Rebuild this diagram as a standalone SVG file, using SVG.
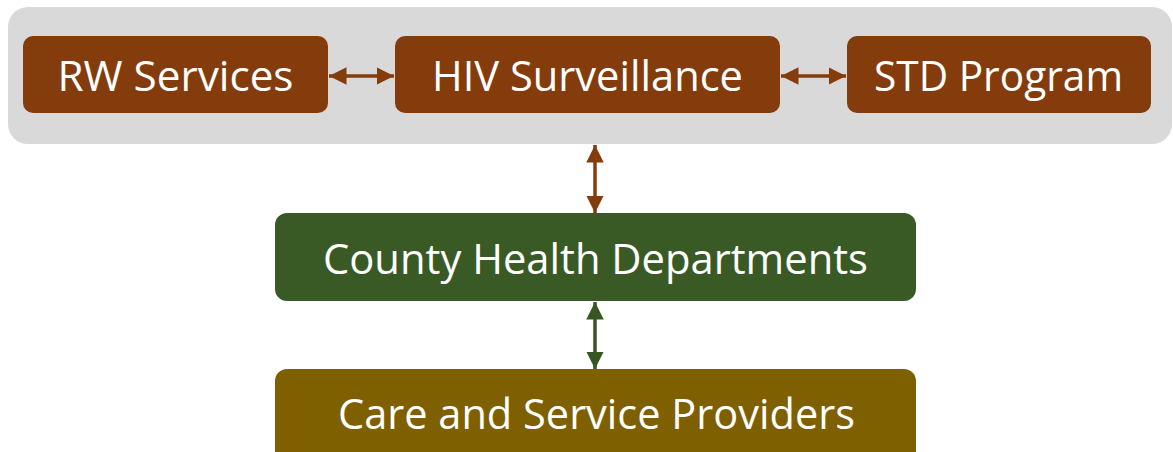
<svg xmlns="http://www.w3.org/2000/svg" width="1173" height="452" viewBox="0 0 1173 452">
<defs>
<style>
.t{font-family:"Open Sans","Noto Sans","Liberation Sans",sans-serif;fill:#fff;text-anchor:middle;font-size:42px}
.b{fill:#843C0C}
.lb{stroke:#843C0C;stroke-width:3.5;fill:none}
.lg{stroke:#375623;stroke-width:3.5;fill:none}
</style>
<marker id="ab" viewBox="0 0 10 10" refX="10" refY="5" markerWidth="5" markerHeight="5" orient="auto-start-reverse" markerUnits="strokeWidth"><path d="M0,0 L10,5 L0,10 z" fill="#843C0C"/></marker>
<marker id="ag" viewBox="0 0 10 10" refX="10" refY="5" markerWidth="5" markerHeight="5" orient="auto-start-reverse" markerUnits="strokeWidth"><path d="M0,0 L10,5 L0,10 z" fill="#375623"/></marker>
</defs>
<g id="container"><rect x="8" y="7" width="1164" height="137" rx="20" fill="#D9D9D9"/></g>
<g id="connectors">
<line class="lb" x1="329" y1="76" x2="394" y2="76" marker-start="url(#ab)" marker-end="url(#ab)"/>
<line class="lb" x1="781" y1="76" x2="846" y2="76" marker-start="url(#ab)" marker-end="url(#ab)"/>
<line class="lb" x1="595" y1="145" x2="595" y2="213" marker-start="url(#ab)" marker-end="url(#ab)"/>
<line class="lg" x1="595" y1="302" x2="595" y2="369" marker-start="url(#ag)" marker-end="url(#ag)"/>
</g>
<g id="rw"><rect class="b" x="23" y="36" width="305" height="77" rx="10"/><text class="t" x="175.5" y="91" textLength="236" lengthAdjust="spacingAndGlyphs">RW Services</text></g>
<g id="hiv"><rect class="b" x="395" y="36" width="385" height="77" rx="10"/><text class="t" x="587.5" y="91" textLength="311" lengthAdjust="spacingAndGlyphs">HIV Surveillance</text></g>
<g id="std"><rect class="b" x="847" y="36" width="304" height="77" rx="10"/><text class="t" x="998.5" y="91" textLength="249" lengthAdjust="spacingAndGlyphs">STD Program</text></g>
<g id="county"><rect x="275" y="213" width="641" height="88" rx="12" fill="#3A5A25"/><text class="t" x="595.5" y="274" textLength="545" lengthAdjust="spacingAndGlyphs">County Health Departments</text></g>
<g id="care"><rect x="275" y="369" width="641" height="100" rx="12" fill="#7F6000"/><text class="t" x="596.5" y="429" textLength="517" lengthAdjust="spacingAndGlyphs">Care and Service Providers</text></g>
</svg>
